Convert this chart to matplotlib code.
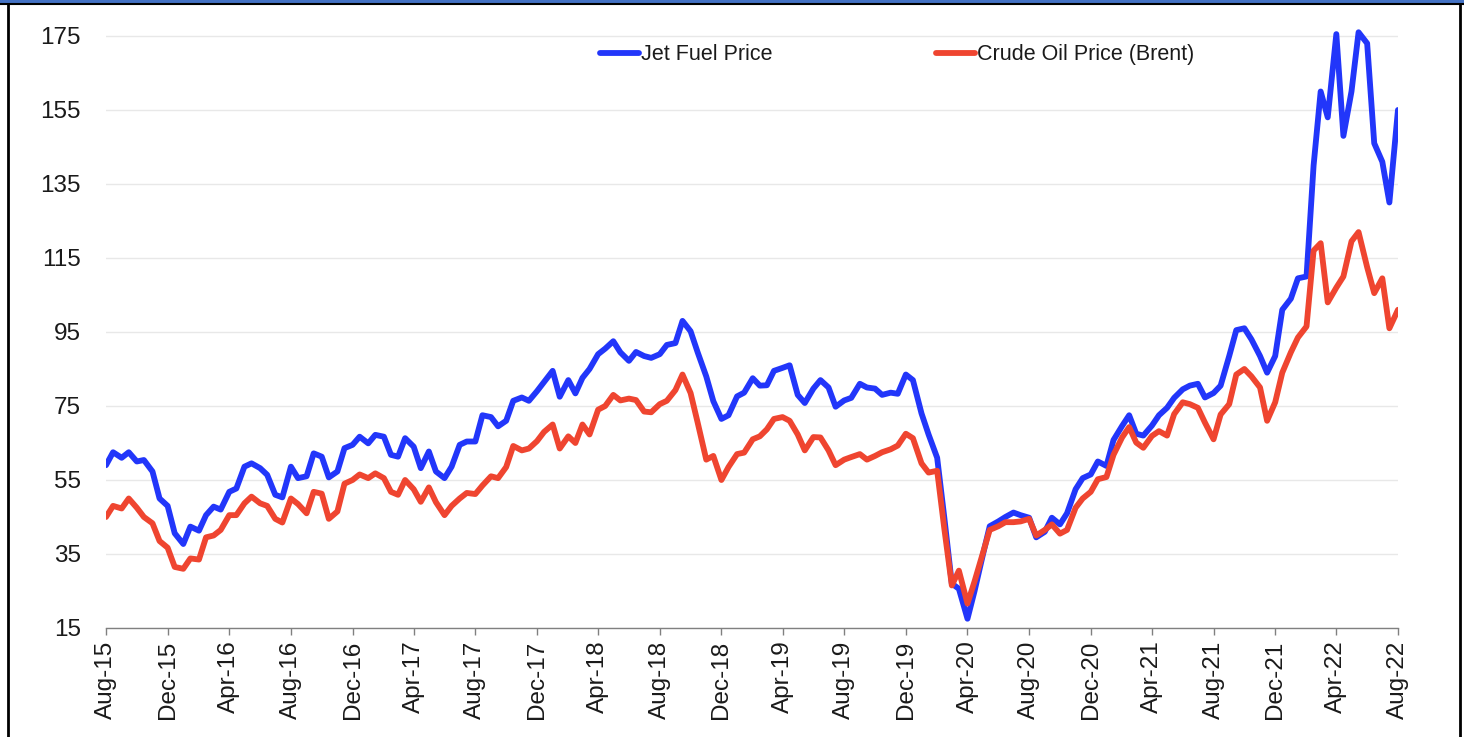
import numpy as np
import pandas as pd
import matplotlib
matplotlib.use('Agg')
import matplotlib.pyplot as plt
from matplotlib.patches import Rectangle
from matplotlib.lines import Line2D

# semi-monthly readings, Aug-15 .. Aug-22
dates = pd.date_range('2015-08-01', periods=169, freq='SMS')

jet_fuel = [
    59, 62.5, 61, 62.5, 60, 60.4, 57.3, 50, 48, 40.6, 37.7, 42.4, 41.3, 45.5, 47.8, 47,
    51.8, 52.7, 58.6, 59.5, 58.2, 56.4, 51, 50.3, 58.6, 55.5, 56, 62.2, 61.3, 55.7, 57.3, 63.6,
    64.5, 66.7, 64.9, 67.2, 66.7, 61.8, 61.3, 66.3, 64, 58.2, 62.7, 57.3, 55.5, 58.6, 64.5, 65.4,
    65.4, 72.5, 72, 69.5, 71, 76.4, 77.3, 76.4, 79, 81.5, 84.5, 77.5, 82, 78.4, 82.6, 85,
    89, 90.5, 92.5, 89.5, 87.2, 89.6, 88.5, 88, 89, 91.5, 92, 98, 95.2, 89.5, 83, 76.3,
    71.5, 72.5, 77.6, 78.6, 82.5, 80.5, 80.6, 84.5, 85.3, 86, 78, 75.8, 79.7, 82, 80, 74.8,
    76.5, 77.2, 81, 80, 79.7, 78, 78.6, 78.3, 83.5, 82, 73, 67.3, 61, 45, 27, 25.6,
    17.5, 25, 34.5, 42.5, 43.8, 45, 46.2, 45.5, 44.8, 39.5, 41, 44.8, 43, 46, 52.5, 55.5,
    56.5, 60, 58.8, 65.8, 69.6, 72.5, 67.5, 67, 69.7, 72.5, 74.5, 77.2, 79.5, 80.5, 81, 77.3,
    78.5, 80.5, 88.5, 95.5, 96, 93, 88.5, 84, 88.5, 101, 104, 109.5, 110, 140, 160, 153,
    175.5, 148, 160, 176, 173, 146, 141, 130, 155,
]

brent = [
    45, 48, 47.3, 50, 47.5, 45, 43.3, 38.5, 36.7, 31.5, 31, 33.8, 33.5, 39.5, 40, 41.5,
    45.5, 45.5, 48.7, 50.5, 48.7, 48, 44.5, 43.5, 50, 48.5, 46, 51.8, 51.3, 44.5, 46.5, 54,
    55, 56.5, 55.5, 56.8, 55.5, 51.8, 51, 55, 52.5, 49.1, 53, 49, 45.5, 48, 50, 51.5,
    51.2, 53.5, 56, 55.5, 58.5, 64.2, 63, 63.5, 65.5, 68, 70, 63.5, 66.8, 65, 70, 67.3,
    74, 75, 78, 76.5, 77, 76.6, 73.5, 73.3, 75.5, 76.4, 79.3, 83.5, 78.5, 70.5, 60.5, 61.5,
    55, 58.5, 62, 62.4, 66, 66.8, 68.7, 71.5, 72, 71, 67.3, 63, 66.6, 66.5, 63, 59,
    60.5, 61.2, 62, 60.5, 61.5, 62.5, 63.3, 64.3, 67.5, 66.3, 59.5, 57, 57.5, 42, 26.5, 30.5,
    21.6, 27.6, 35, 41.5, 42.5, 43.6, 43.6, 43.8, 44.5, 40, 41.5, 43, 40.5, 41.5, 47.5, 50,
    51.8, 55.2, 55.8, 61.8, 66.5, 69.3, 65.1, 63.7, 66.9, 68.2, 67, 72.8, 76, 75.5, 74.5, 70.5,
    66, 72.7, 75.5, 83.5, 85, 83, 80, 71, 76, 84, 89.5, 93.5, 96.5, 117, 119, 103,
    107, 110, 119.5, 122, 112.5, 105.5, 109.5, 96, 101,
]

tick_dates = pd.date_range('2015-08-01', '2022-08-01', freq='4MS')
tick_labels = ['Aug-15', 'Dec-15', 'Apr-16', 'Aug-16', 'Dec-16', 'Apr-17', 'Aug-17',
               'Dec-17', 'Apr-18', 'Aug-18', 'Dec-18', 'Apr-19', 'Aug-19', 'Dec-19',
               'Apr-20', 'Aug-20', 'Dec-20', 'Apr-21', 'Aug-21', 'Dec-21', 'Apr-22', 'Aug-22']
y_ticks = [15, 35, 55, 75, 95, 115, 135, 155, 175]

plt.rcParams['font.family'] = ['Liberation Sans', 'DejaVu Sans']

fig = plt.figure(figsize=(14.64, 7.37), dpi=100)
ax = fig.add_axes([0.0724, 0.1479, 0.8825, 0.8284])

ax.plot(dates, jet_fuel, color='#2236FA', lw=4.2, label='Jet Fuel Price',
        solid_capstyle='round', solid_joinstyle='round')
ax.plot(dates, brent, color='#EF4530', lw=4.2, label='Crude Oil Price (Brent)',
        solid_capstyle='round', solid_joinstyle='round')

ax.set_ylim(15, 180)
ax.set_xlim(dates[0], dates[-1])
ax.set_yticks(y_ticks)
ax.set_xticks(tick_dates)
ax.set_xticklabels(tick_labels, rotation=90)

ax.grid(axis='y', color='#e8e8e8', lw=1.0)
ax.set_axisbelow(True)
for s in ['top', 'right', 'left']:
    ax.spines[s].set_visible(False)
ax.spines['bottom'].set_color('#808080')
ax.spines['bottom'].set_linewidth(1.0)
ax.tick_params(axis='y', length=0, pad=18, labelsize=17.5, labelcolor='#1a1a1a')
ax.tick_params(axis='x', length=5, width=1, color='#808080', pad=4, labelsize=17.5, labelcolor='#1a1a1a')

leg = ax.legend(loc='center', bbox_to_anchor=(0.6126, 0.939), ncol=2, frameon=False,
                fontsize=15.5, handlelength=1.8, handletextpad=0.1, columnspacing=7.6)
for t in leg.get_texts():
    t.set_color('#1a1a1a')

# outer frame
fig.add_artist(Rectangle((0, 1 - 3.5 / 737), 1, 3.5 / 737, transform=fig.transFigure,
                         color='#4472C4', lw=0))
fig.add_artist(Line2D([0, 1], [1 - 4 / 737, 1 - 4 / 737], transform=fig.transFigure,
                      color='black', lw=1.5))
fig.add_artist(Line2D([8 / 1464, 8 / 1464], [0, 1 - 4 / 737], transform=fig.transFigure,
                      color='black', lw=2))
fig.add_artist(Line2D([1460 / 1464, 1460 / 1464], [0, 1 - 4 / 737], transform=fig.transFigure,
                      color='black', lw=2))

fig.savefig('out.png', dpi=100)
